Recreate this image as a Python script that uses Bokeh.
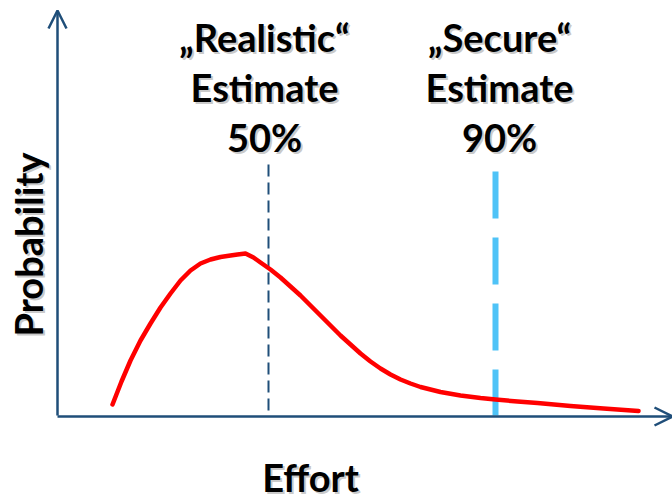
from bokeh.plotting import figure
from bokeh.models import Range1d, Arrow, OpenHead, ColumnDataSource
from bokeh.core.properties import value
from bokeh.embed import file_html
from bokeh.resources import INLINE
import math

# --- data (arbitrary effort / probability units) ---
effort = [55, 64, 73, 83, 93, 103, 113, 123, 133, 143, 153, 163, 173, 180, 188,
          196, 203, 213, 223, 233, 243, 253, 263, 273, 283, 293, 303, 313,
          323, 333, 343, 353, 363, 383, 403, 423, 438, 460, 480, 513, 546, 581]
probability = [11, 34, 55, 75, 92, 108, 122, 135, 145, 152, 156, 158.5, 160, 161, 162,
               158, 153, 146, 138, 129, 120, 110, 100, 90, 80, 71, 62, 54,
               47, 41, 36, 32, 28.5, 23.5, 20, 17.5, 16, 14, 12.5, 9.5, 7, 4.5]

realistic_effort = 211
secure_effort = 438
realistic_top = 251
secure_top = 244

realistic_lines = ["\u201eRealistic\u201c", "Estimate", "50%"]
secure_lines = ["\u201eSecure\u201c", "Estimate", "90%"]
label_baselines = [379, 329, 279]
realistic_label_x = 207
secure_label_x = 442

x_label = "Effort"
y_label = "Probability"

x_max = 615
y_max = 405

AXIS = "#1F4E79"
FONT = value("Lato")

p = figure(width=672, height=503, min_border=0, toolbar_location=None,
           output_backend="svg", x_range=Range1d(-57, 615), y_range=Range1d(-88, 415))
p.xaxis.visible = False
p.yaxis.visible = False
p.grid.visible = False
p.outline_line_color = None
p.background_fill_color = "white"
p.border_fill_color = "white"

# axes with arrows
p.add_layout(Arrow(end=OpenHead(size=18, line_color=AXIS, line_width=2.5),
                   x_start=0, y_start=0, x_end=0, y_end=y_max,
                   line_color=AXIS, line_width=2.5))
p.add_layout(Arrow(end=OpenHead(size=18, line_color=AXIS, line_width=2.5),
                   x_start=0, y_start=-1, x_end=x_max, y_end=-1,
                   line_color=AXIS, line_width=2.5))

# estimate lines
p.segment(x0=[realistic_effort], y0=[realistic_top], x1=[realistic_effort], y1=[0],
          line_color=AXIS, line_width=2, line_dash="12 6")
p.segment(x0=[secure_effort], y0=[secure_top], x1=[secure_effort], y1=[0],
          line_color="#4FC3F7", line_width=6, line_dash="47 19")

# distribution curve
p.line(effort, probability, line_color="#FF0000", line_width=4.5,
       line_join="round", line_cap="round")

def label(xs, ys, texts, angle=0.0):
    src = ColumnDataSource(dict(x=xs, y=ys, t=texts))
    p.text(x="x", y="y", text="t", source=src, text_font=FONT, text_font_style="bold",
           text_font_size="38px", text_align="center", text_baseline="alphabetic",
           text_color="#888888", text_alpha=0.45, x_offset=2, y_offset=2, angle=angle)
    p.text(x="x", y="y", text="t", source=src, text_font=FONT, text_font_style="bold",
           text_font_size="38px", text_align="center", text_baseline="alphabetic",
           text_color="black", angle=angle)

label([realistic_label_x] * 3, label_baselines, realistic_lines)
label([secure_label_x] * 3, label_baselines, secure_lines)
label([253], [-61], [x_label])
label([-30], [171], [y_label], angle=math.pi / 2)

open("out.html", "w").write(file_html(p, INLINE))
